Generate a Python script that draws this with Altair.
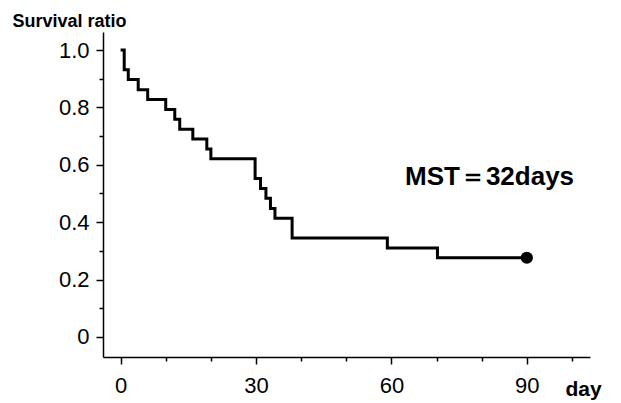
import altair as alt
import pandas as pd

# Kaplan-Meier step curve
days = [0, 0.8, 1.7, 3.9, 6.0, 10.0, 12.0, 13.1, 16.0, 19.1, 20.0,
        29.8, 31.0, 32.2, 33.2, 34.2, 38.0, 59.1, 70.2, 90]
survival = [1.0, 0.931, 0.897, 0.862, 0.828, 0.793, 0.759, 0.724, 0.690, 0.655, 0.621,
            0.552, 0.517, 0.483, 0.448, 0.414, 0.345, 0.310, 0.276, 0.276]

end_day = [90]
end_survival = [0.276]

x_major = [0, 30, 60, 90]
x_minor = [10, 20, 40, 50, 70, 80, 100]
y_major = [0, 0.2, 0.4, 0.6, 0.8, 1.0]
y_minor = [0.1, 0.3, 0.5, 0.7, 0.9]

annotation = ["MST＝32days"]

curve = pd.DataFrame({"day": days, "surv": survival})
end = pd.DataFrame({"day": end_day, "surv": end_survival})
note = pd.DataFrame({"label": annotation})

FONT = "Liberation Sans"
xscale = alt.Scale(domain=[-3.9, 104], nice=False, zero=False)
yscale = alt.Scale(domain=[-0.07, 1.063], nice=False, zero=False)

line = alt.Chart(curve).mark_line(
    interpolate="step-after", color="black", strokeWidth=3
).encode(
    x=alt.X("day:Q", scale=xscale, axis=alt.Axis(
        orient="bottom", values=x_major, format="d", grid=False,
        tickSize=7, tickWidth=1.5, tickColor="black",
        domainColor="black", domainWidth=1.5,
        labelFont=FONT, labelFontSize=22, labelColor="black", labelPadding=11,
        title="day", titleFont=FONT, titleFontSize=21, titleFontWeight="bold",
        titleColor="black", titleAlign="left", titleBaseline="alphabetic",
        titleX=462, titleY=38.5)),
    y=alt.Y("surv:Q", scale=yscale, axis=alt.Axis(
        orient="left", values=y_major, grid=False,
        labelExpr="datum.value == 0 ? '0' : format(datum.value, '.1f')",
        tickSize=7, tickWidth=1.5, tickColor="black",
        domainColor="black", domainWidth=1.5,
        labelFont=FONT, labelFontSize=22, labelColor="black", labelPadding=7,
        title="Survival ratio", titleFont=FONT, titleFontSize=18,
        titleFontWeight="bold", titleColor="black", titleAngle=0,
        titleAlign="left", titleBaseline="alphabetic", titleX=-91, titleY=-6)),
)

dot = alt.Chart(end).mark_point(
    filled=True, color="black", size=150, opacity=1
).encode(
    x=alt.X("day:Q", scale=xscale, axis=alt.Axis(
        orient="bottom", values=x_minor, labels=False, domain=False, grid=False,
        tickSize=4, tickWidth=1.5, tickColor="black", title=None)),
    y=alt.Y("surv:Q", scale=yscale, axis=alt.Axis(
        orient="left", values=y_minor, labels=False, domain=False, grid=False,
        tickSize=4, tickWidth=1.5, tickColor="black", title=None)),
)

mst = alt.Chart(note).mark_text(
    font=FONT, fontSize=26, fontWeight="bold", color="black",
    align="left", baseline="alphabetic"
).encode(
    text="label:N",
    x=alt.value(302),
    y=alt.value(153),
)

chart = alt.layer(line, dot, mst).resolve_axis(
    x="independent", y="independent"
).properties(
    width=487, height=325,
    autosize=alt.AutoSizeParams(type="none"),
    padding={"left": 95, "top": 24, "right": 23, "bottom": 46},
).configure_view(stroke=None)

chart.save("out.html", embed_options={"renderer": "svg", "actions": False})
